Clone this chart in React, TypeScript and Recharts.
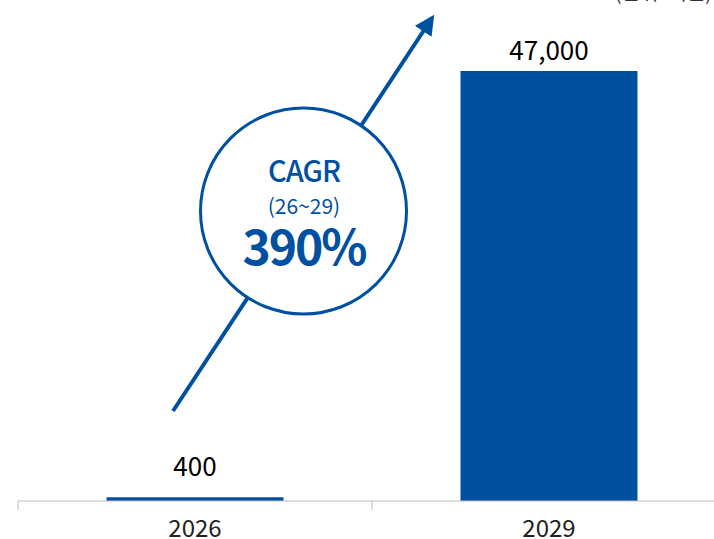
import React from 'react';
import { BarChart, Bar, XAxis, YAxis, LabelList } from 'recharts';

const years = ['2026', '2029'];
const revenue = [400, 47000];
const unitNote = '(단위: 억원)';
const cagrTitle = 'CAGR';
const cagrPeriod = '(26~29)';
const cagrValue = '390%';

const data = years.map((year, i) => ({ year, revenue: revenue[i] }));

const BLUE = '#0050a2';
const FONT = '"Noto Sans CJK KR", "Noto Sans", sans-serif';
const VIEW_W = 714;
const VIEW_H = 539;
const W = 740;
const H = 570;
const M = { top: 71, right: 14, left: 18, bottom: 31 };
const AXIS_H = 38;
const band = (W - M.left - M.right) / years.length;
const plotBottom = H - M.bottom - AXIS_H;

const YearTick = (props: any) => {
  const { x, payload } = props;
  return (
    <g>
      <line x1={x - band / 2} y1={plotBottom} x2={x - band / 2} y2={plotBottom + 9} stroke="#bdbdbd" />
      <text x={x} y={plotBottom + 36} textAnchor="middle" fontSize={24} fill="#222" fontFamily={FONT}>
        {payload.value}
      </text>
    </g>
  );
};

const ValueLabel = (props: any) => {
  const { x, y, width, value } = props;
  const base = Math.min(y - 11, plotBottom - 25);
  return (
    <text x={x + width / 2} y={base} textAnchor="middle" fontSize={26} fill="#000" fontFamily={FONT}>
      {Number(value).toLocaleString('en-US')}
    </text>
  );
};

export default function App() {
  return (
    <div style={{ position: 'fixed', left: 0, top: 0, width: VIEW_W, height: VIEW_H, overflow: 'hidden', background: '#fff' }}>
      <BarChart width={W} height={H} data={data} margin={M} barCategoryGap="25%">
        <XAxis
          dataKey="year"
          height={AXIS_H}
          axisLine={{ stroke: '#bdbdbd' }}
          tickLine={false}
          tick={<YearTick />}
          interval={0}
        />
        <YAxis hide domain={[0, 'dataMax']} />
        <Bar dataKey="revenue" fill={BLUE} isAnimationActive={false}>
          <LabelList dataKey="revenue" content={<ValueLabel />} />
        </Bar>
      </BarChart>
      <svg width={VIEW_W} height={VIEW_H} style={{ position: 'absolute', left: 0, top: 0, pointerEvents: 'none' }}>
        <defs>
          <marker id="head" viewBox="0 0 10 10" refX="8" refY="5" markerWidth="5" markerHeight="5" orient="auto">
            <path d="M0,0 L10,5 L0,10 z" fill={BLUE} />
          </marker>
        </defs>
        <line x1={173} y1={411} x2={432} y2={18} stroke={BLUE} strokeWidth={4} markerEnd="url(#head)" />
        <circle cx={303.5} cy={211} r={103} fill="#fff" stroke={BLUE} strokeWidth={3} />
        <text x={304} y={182} textAnchor="middle" fontSize={29} fontWeight={500} fill={BLUE} fontFamily={FONT} letterSpacing={-1}>
          {cagrTitle}
        </text>
        <text x={304} y={214} textAnchor="middle" fontSize={21} fill={BLUE} fontFamily={FONT}>
          {cagrPeriod}
        </text>
        <text x={304} y={265} textAnchor="middle" fontSize={48} fontWeight={700} fill={BLUE} fontFamily={FONT} letterSpacing={-2}>
          {cagrValue}
        </text>
        <text x={712} y={0} textAnchor="end" fontSize={20} fill="#333" fontFamily={FONT}>
          {unitNote}
        </text>
      </svg>
    </div>
  );
}
